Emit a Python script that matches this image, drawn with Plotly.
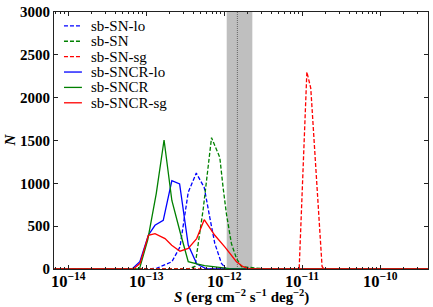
import math
import plotly.graph_objects as go

# ---- data ----
series_names = ["sb-SN-lo", "sb-SN", "sb-SN-sg", "sb-SNCR-lo", "sb-SNCR", "sb-SNCR-sg"]
series_colors = ["#0000ff", "#008000", "#ff0000", "#0000ff", "#008000", "#ff0000"]
series_dashed = [True, True, True, False, False, False]

# S in erg cm^-2 s^-1 deg^-2, N counts
s_sn_lo = [6.6e-15, 1.12e-13, 1.38e-13, 2.14e-13, 2.72e-13, 3.47e-13, 4.40e-13, 5.56e-13,
           6.56e-13, 7.60e-13, 9.25e-13, 1.07e-12, 4.1e-10]
n_sn_lo = [0, 0, 10, 85, 258, 896, 1120, 953, 600, 298, 66, 0, 0]

s_sn = [6.6e-15, 3.44e-13, 4.23e-13, 5.40e-13, 6.90e-13, 7.60e-13, 8.81e-13, 9.70e-13,
        1.07e-12, 1.24e-12, 1.44e-12, 1.67e-12, 2.46e-12, 3.48e-12, 4.1e-10]
n_sn = [0, 0, 30, 700, 1533, 1437, 1301, 954, 645, 298, 124, 27, 10, 0, 0]

s_sn_sg = [6.6e-15, 9.16e-12, 1.15e-11, 1.29e-11, 1.80e-11, 1.90e-11, 4.1e-10]
n_sn_sg = [0, 0, 2300, 2110, 30, 0, 0]

s_sncr_lo = [6.6e-15, 6.61e-14, 8.32e-14, 1.07e-13, 1.30e-13, 1.66e-13, 2.14e-13, 2.69e-13,
             3.47e-13, 4.47e-13, 6.03e-13, 4.1e-10]
n_sncr_lo = [0, 0, 85, 394, 510, 568, 1031, 993, 280, 58, 0, 0]

s_sncr = [6.6e-15, 8.22e-14, 1.05e-13, 1.35e-13, 1.70e-13, 2.14e-13, 2.75e-13, 3.47e-13,
          4.47e-13, 5.62e-13, 7.24e-13, 9.12e-13, 1.17e-12, 1.48e-12, 4.1e-10]
n_sncr = [0, 0, 340, 880, 1506, 800, 420, 85, 60, 40, 27, 15, 5, 0, 0]

s_sncr_sg = [6.6e-15, 6.89e-14, 8.38e-14, 1.07e-13, 1.30e-13, 1.75e-13, 2.13e-13, 2.72e-13,
             3.47e-13, 4.45e-13, 5.56e-13, 7.60e-13, 1.02e-12, 1.24e-12, 1.44e-12, 1.75e-12,
             2.13e-12, 4.1e-10]
n_sncr_sg = [0, 0, 66, 394, 413, 355, 278, 208, 240, 355, 576, 394, 258, 162, 85, 27, 0, 0]

band_lo, band_hi = 1.08e-12, 2.3e-12
band_mark = 1.48e-12

x_range_log = [-14.18, -9.387]
x_tick_vals = [1e-14, 1e-13, 1e-12, 1e-11, 1e-10]
x_tick_text = ["<b>10</b><sup><b>−14</b></sup>", "<b>10</b><sup><b>−13</b></sup>",
               "<b>10</b><sup><b>−12</b></sup>", "<b>10</b><sup><b>−11</b></sup>",
               "<b>10</b><sup><b>−10</b></sup>"]
y_range = [0, 3000]
y_ticks = [0, 500, 1000, 1500, 2000, 2500, 3000]

series_s = [s_sn_lo, s_sn, s_sn_sg, s_sncr_lo, s_sncr, s_sncr_sg]
series_n = [n_sn_lo, n_sn, n_sn_sg, n_sncr_lo, n_sncr, n_sncr_sg]

SERIF = "Liberation Serif"
DASH = "4px,2px"

fig = go.Figure()
for name, col, dashed, s, n in zip(series_names, series_colors, series_dashed, series_s, series_n):
    fig.add_trace(go.Scatter(
        x=s, y=n, mode="lines", name=name, showlegend=False,
        line=dict(color=col, width=1.3, dash=DASH if dashed else "solid"),
    ))

# grey band and dotted marker
fig.add_shape(type="rect", xref="x", yref="paper", x0=band_lo, x1=band_hi, y0=0, y1=1,
              fillcolor="#bfbfbf", line=dict(width=0), layer="below")
fig.add_shape(type="line", xref="x", yref="paper", x0=band_mark, x1=band_mark, y0=0, y1=1,
              line=dict(color="#666666", width=1, dash="1px,1px"), layer="below")

# layout geometry helpers
L, R, T, B = 54, 429, 10, 269
W, H = R - L, B - T
def px(x):
    return (x - L) / W
def py(y):
    return 1 - (y - T) / H

# manual legend (compact rows like the reference)
row0, row_step = 24, 15.5
for i, (name, col, dashed) in enumerate(zip(series_names, series_colors, series_dashed)):
    yy = row0 + i * row_step
    fig.add_shape(type="line", xref="paper", yref="paper", x0=px(64), x1=px(82), y0=py(yy), y1=py(yy),
                  line=dict(color=col, width=1.3, dash=DASH if dashed else "solid"))
    fig.add_annotation(xref="paper", yref="paper", x=px(89), y=py(yy), text=name, showarrow=False,
                       xanchor="left", yanchor="middle", font=dict(family=SERIF, size=15, color="black"))

# x tick labels placed close to the axis
for v, t in zip(x_tick_vals, x_tick_text):
    fig.add_annotation(xref="x", yref="paper", x=math.log10(v), y=py(268), text=t, showarrow=False,
                       xanchor="center", yanchor="top", font=dict(family=SERIF, size=16.5, color="black"))

# axis titles
fig.add_annotation(xref="paper", yref="paper", x=0.5, y=py(297),
                   text="<b><i>S</i> (erg cm<sup>−2</sup> s<sup>−1</sup> deg<sup>−2</sup>)</b>",
                   showarrow=False, xanchor="center", yanchor="middle",
                   font=dict(family=SERIF, size=15, color="black"))
fig.add_annotation(xref="paper", yref="paper", x=px(9), y=0.5, text="<b><i>N</i></b>", textangle=-90,
                   showarrow=False, xanchor="center", yanchor="middle",
                   font=dict(family=SERIF, size=15, color="black"))

axis_common = dict(showline=True, linecolor="#222222", linewidth=1, mirror="allticks",
                   ticks="inside", ticklen=4, tickcolor="#222222", showgrid=False, zeroline=False,
                   tickfont=dict(family=SERIF, size=15, color="black", weight="bold"))

fig.update_xaxes(type="log", range=x_range_log, dtick=1, showticklabels=False,
                 minor=dict(ticks="inside", ticklen=2, tickcolor="#222222", dtick="D1", showgrid=False),
                 **axis_common)
fig.update_yaxes(range=y_range, tickvals=y_ticks, **axis_common)

fig.update_layout(
    width=433, height=307,
    margin=dict(l=L, r=433 - R, t=T, b=307 - B),
    paper_bgcolor="white", plot_bgcolor="white",
    showlegend=False,
)

fig.write_html("out.html", config={"displayModeBar": False},
               post_script="document.body.style.margin='0';document.body.style.padding='0';")
